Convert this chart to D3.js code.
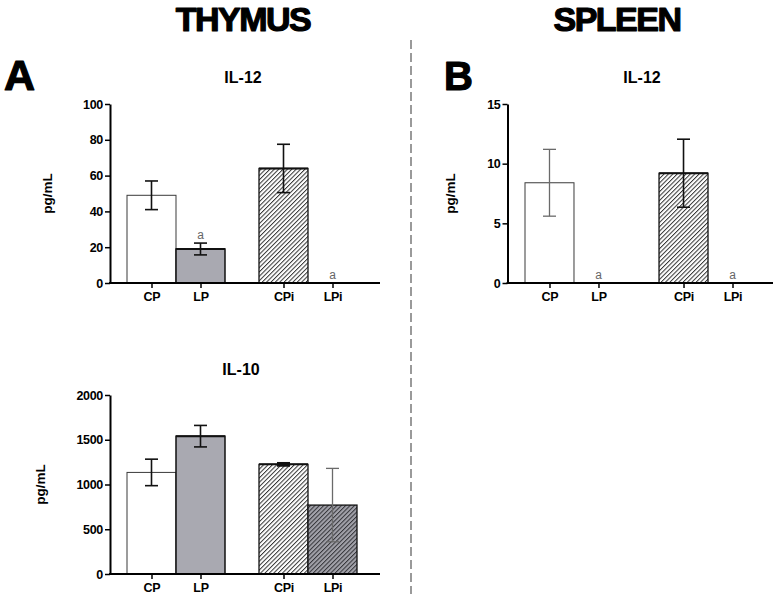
<!DOCTYPE html>
<html>
<head>
<meta charset="utf-8">
<script src="https://cdn.jsdelivr.net/npm/d3@7"></script>
<style>
  html, body { margin: 0; padding: 0; background: #fff; }
  svg { display: block; font-family: "Liberation Sans", Arial, sans-serif; }
</style>
</head>
<body>
<svg id="chart" width="776" height="594"></svg>
<script>
// ---- data ----
const categories = ["CP", "LP", "CPi", "LPi"];
const groups = ["P", "Pi"];

const thymusIL12 = [49, 19, 64, 0];
const thymusIL12Sem = [8, 3.3, 13.5, 0];
const thymusIL12Sig = ["", "a", "", "a"];
const thymusIL12Ticks = [0, 20, 40, 60, 80, 100];

const thymusIL10 = [1135, 1540, 1225, 770];
const thymusIL10Sem = [148, 120, 10, 410];
const thymusIL10Sig = ["", "", "", ""];
const thymusIL10Ticks = [0, 500, 1000, 1500, 2000];

const spleenIL12 = [8.4, 0, 9.2, 0];
const spleenIL12Sem = [2.8, 0, 2.85, 0];
const spleenIL12Sig = ["", "a", "", "a"];
const spleenIL12Ticks = [0, 5, 10, 15];

// ---- drawing ----
const svg = d3.select("#chart");
const defs = svg.append("defs");

function hatch(id, bg, line) {
  const s = 3.1;
  const p = defs.append("pattern")
    .attr("id", id).attr("patternUnits", "userSpaceOnUse")
    .attr("width", s).attr("height", s)
    .attr("patternTransform", "rotate(45)");
  p.append("rect").attr("width", s).attr("height", s).attr("fill", bg);
  p.append("line").attr("x1", 0.5).attr("y1", 0).attr("x2", 0.5).attr("y2", s)
    .attr("stroke", line).attr("stroke-width", 1);
}
hatch("hatchWhite", "#ffffff", "#333");
hatch("hatchGrey", "#a2a2aa", "#333338");

const barStyle = {
  CP:  { fill: "#ffffff", stroke: "#3a3a3a", sw: 1 },
  LP:  { fill: "#a9a9b1", stroke: "#111", sw: 1.5 },
  CPi: { fill: "url(#hatchWhite)", stroke: "#111", sw: 1.3 },
  LPi: { fill: "url(#hatchGrey)", stroke: "#111", sw: 1.3 }
};

function panel(cfg) {
  const g = svg.append("g");
  const y = d3.scaleLinear().domain([0, cfg.ticks[cfg.ticks.length - 1]])
    .range([cfg.yBot, cfg.yTop]);
  const gx = d3.scaleBand().domain(groups).range(cfg.groupRange).paddingInner(cfg.gap);
  const ix = d3.scaleBand().domain([0, 1]).range([0, gx.bandwidth()]);
  const barX = (i) => gx(groups[Math.floor(i / 2)]) + ix(i % 2);
  const centers = categories.map((c, i) => barX(i) + ix.bandwidth() / 2);
  const xAxisScale = d3.scaleOrdinal().domain(categories).range(centers);

  const data = categories.map((c, i) => ({ c, i, v: cfg.values[i], s: cfg.sems[i], sig: cfg.sig[i] }));

  // bars
  g.selectAll("rect.bar").data(data.filter(d => d.v > 0)).join("rect")
    .attr("class", "bar")
    .attr("x", d => barX(d.i))
    .attr("y", d => y(d.v))
    .attr("width", ix.bandwidth())
    .attr("height", d => y(0) - y(d.v))
    .attr("fill", d => barStyle[d.c].fill)
    .attr("stroke", d => barStyle[d.c].stroke)
    .attr("stroke-width", d => barStyle[d.c].sw);

  // thick top edge on some bars
  g.selectAll("line.top").data(data.filter(d => d.v > 0 && (d.c === "CPi" || d.c === "LP"))).join("line")
    .attr("x1", d => barX(d.i)).attr("x2", d => barX(d.i) + ix.bandwidth())
    .attr("y1", d => y(d.v)).attr("y2", d => y(d.v))
    .attr("stroke", "#111").attr("stroke-width", 2);

  // error bars
  const isGrey = d => (cfg.greyErr || []).includes(d.c);
  const eb = g.selectAll("g.err").data(data.filter(d => d.s > 0)).join("g")
    .attr("class", "err")
    .attr("stroke", d => isGrey(d) ? "#6a6a6a" : "#111")
    .attr("stroke-width", d => isGrey(d) ? 1.3 : 1.6);
  eb.append("line")
    .attr("x1", d => centers[d.i]).attr("x2", d => centers[d.i])
    .attr("y1", d => y(d.v - d.s)).attr("y2", d => y(d.v + d.s));
  [1, -1].forEach(sgn => {
    eb.append("line")
      .attr("x1", d => centers[d.i] - 6.5).attr("x2", d => centers[d.i] + 6.5)
      .attr("y1", d => y(d.v + sgn * d.s)).attr("y2", d => y(d.v + sgn * d.s))
      .attr("stroke-width", d => (y(d.v - d.s) - y(d.v + d.s)) < 4 ? 3 : null);
  });

  // significance letters
  g.selectAll("text.sig").data(data.filter(d => d.sig)).join("text")
    .attr("class", "sig")
    .attr("x", d => centers[d.i])
    .attr("y", d => y(d.v + d.s) - 4)
    .attr("text-anchor", "middle")
    .attr("font-size", 12)
    .attr("fill", "#666")
    .text(d => d.sig);

  // y axis
  const ya = g.append("g").attr("transform", `translate(${cfg.axisX},0)`)
    .call(d3.axisLeft(y).tickValues(cfg.ticks).tickFormat(d3.format("d"))
      .tickSize(5).tickSizeOuter(0).tickPadding(2));
  ya.select(".domain").attr("stroke", "#000").attr("stroke-width", 2);
  ya.selectAll(".tick line").attr("stroke", "#000").attr("stroke-width", 1.5);
  ya.selectAll(".tick text").attr("font-size", 12.5).attr("font-weight", "bold")
    .attr("font-family", "'Liberation Sans', Arial, sans-serif").attr("fill", "#000")
    .attr("letter-spacing", -0.3);

  // x axis
  const xa = g.append("g").attr("transform", `translate(0,${cfg.yBot})`)
    .call(d3.axisBottom(xAxisScale).tickSize(5).tickSizeOuter(0).tickPadding(4));
  xa.select(".domain").remove();
  xa.selectAll(".tick line").attr("stroke", "#000").attr("stroke-width", 1.5);
  xa.selectAll(".tick text").attr("font-size", 12.5).attr("font-weight", "bold")
    .attr("font-family", "'Liberation Sans', Arial, sans-serif").attr("fill", "#000")
    .attr("letter-spacing", -0.3);
  g.append("line").attr("x1", cfg.axisX - 1).attr("x2", cfg.xEnd)
    .attr("y1", cfg.yBot).attr("y2", cfg.yBot)
    .attr("stroke", "#000").attr("stroke-width", 2);

  // y label
  g.append("text")
    .attr("transform", `translate(${cfg.labelX},${(cfg.yTop + cfg.yBot) / 2}) rotate(-90)`)
    .attr("text-anchor", "middle")
    .attr("font-size", 13.5).attr("font-weight", "bold")
    .text("pg/mL");

  // title
  g.append("text")
    .attr("x", cfg.titleX).attr("y", cfg.titleY)
    .attr("text-anchor", "middle")
    .attr("font-size", 16).attr("font-weight", "bold")
    .text(cfg.title);
}

panel({
  values: thymusIL12, sems: thymusIL12Sem, sig: thymusIL12Sig, ticks: thymusIL12Ticks,
  axisX: 110, yTop: 104, yBot: 283, xEnd: 380, groupRange: [127, 357], gap: 0.2576,
  labelX: 52, title: "IL-12", titleX: 243, titleY: 83
});
panel({
  values: thymusIL10, sems: thymusIL10Sem, sig: thymusIL10Sig, ticks: thymusIL10Ticks,
  axisX: 110, yTop: 395, yBot: 574, xEnd: 380, groupRange: [127, 357], gap: 0.2576,
  labelX: 45, title: "IL-10", titleX: 241, titleY: 375, greyErr: ["LPi"]
});
panel({
  values: spleenIL12, sems: spleenIL12Sem, sig: spleenIL12Sig, ticks: spleenIL12Ticks,
  axisX: 507.5, yTop: 104, yBot: 283, xEnd: 773, groupRange: [525, 757], gap: 0.269,
  labelX: 455, title: "IL-12", titleX: 642, titleY: 83, greyErr: ["CP"]
});

// headers
function bigText(x, y, size, anchor, txt, ls) {
  svg.append("text").attr("x", x).attr("y", y)
    .attr("text-anchor", anchor)
    .attr("font-size", size).attr("font-weight", "bold")
    .attr("letter-spacing", ls)
    .attr("stroke", "#000").attr("stroke-width", 1.2).attr("stroke-linejoin", "round")
    .text(txt);
}
bigText(243, 31, 34, "middle", "THYMUS", -1.5);
bigText(617, 31, 34, "middle", "SPLEEN", -1.5);
bigText(4, 90, 43, "start", "A", 0);
bigText(444, 90, 40, "start", "B", 0);

// divider
svg.append("line").attr("x1", 411).attr("x2", 411).attr("y1", 40).attr("y2", 594)
  .attr("stroke", "#9a9a9a").attr("stroke-width", 2).attr("stroke-dasharray", "9,4");
</script>
</body>
</html>
